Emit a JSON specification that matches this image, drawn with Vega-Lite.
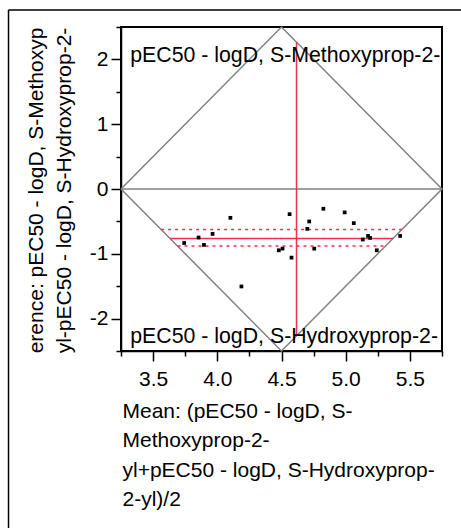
{
  "$schema": "https://vega.github.io/schema/vega-lite/v6.json",
  "width": 321,
  "height": 324,
  "autosize": {"type": "none"},
  "padding": {"left": 121, "top": 27, "right": 19, "bottom": 177},
  "background": "white",
  "config": {
    "view": {"stroke": "black", "strokeWidth": 2},
    "font": "Liberation Sans",
    "axis": {
      "grid": false,
      "domainColor": "black",
      "domainWidth": 1.5,
      "tickColor": "black",
      "tickWidth": 1.5,
      "labelColor": "black",
      "titleColor": "black",
      "labelFont": "Liberation Sans",
      "titleFont": "Liberation Sans",
      "labelFontSize": 21,
      "titleFontSize": 21,
      "titleFontWeight": "normal",
      "labelOverlap": false,
      "labelFlush": false
    }
  },
  "resolve": {"axis": {"x": "independent", "y": "independent"}},
  "datasets": {
    "pts": [
      {"mean": 3.742, "diff": -0.833},
      {"mean": 3.854, "diff": -0.749},
      {"mean": 3.896, "diff": -0.863},
      {"mean": 3.963, "diff": -0.693},
      {"mean": 4.102, "diff": -0.445},
      {"mean": 4.188, "diff": -1.504},
      {"mean": 4.479, "diff": -0.946},
      {"mean": 4.508, "diff": -0.92},
      {"mean": 4.563, "diff": -0.388},
      {"mean": 4.578, "diff": -1.059},
      {"mean": 4.701, "diff": -0.615},
      {"mean": 4.716, "diff": -0.501},
      {"mean": 4.755, "diff": -0.92},
      {"mean": 4.826, "diff": -0.305},
      {"mean": 4.992, "diff": -0.361},
      {"mean": 5.063, "diff": -0.527},
      {"mean": 5.133, "diff": -0.78},
      {"mean": 5.174, "diff": -0.724},
      {"mean": 5.19, "diff": -0.755},
      {"mean": 5.242, "diff": -0.946},
      {"mean": 5.424, "diff": -0.724}
    ],
    "diamond": [
      {"i": 0, "x": 3.25, "y": 0},
      {"i": 1, "x": 4.5, "y": 2.5},
      {"i": 2, "x": 5.75, "y": 0},
      {"i": 3, "x": 4.5, "y": -2.5},
      {"i": 4, "x": 3.25, "y": 0}
    ],
    "meanline": [{"x": 3.632, "x2": 5.368, "y": -0.764}],
    "ci": [
      {"x": 3.5625, "x2": 5.4375, "y": -0.625},
      {"x": 3.69, "x2": 5.31, "y": -0.879}
    ],
    "vline": [{"x": 4.617, "y": -2.266, "y2": 2.266}],
    "zero": [{"y": 0}],
    "labels": [
      {"x": 3.322, "y": 1.96, "text": "pEC50 - logD, S-Methoxyprop-2-"},
      {"x": 3.322, "y": -2.377, "text": "pEC50 - logD, S-Hydroxyprop-2-"}
    ],
    "frame": [
      {"x": 2.374, "x2": 6.2, "y": 2.762, "y2": 2.762},
      {"x": 2.374, "x2": 2.374, "y": 2.762, "y2": -5.6}
    ]
  },
  "layer": [
    {
      "data": {"name": "zero"},
      "mark": {"type": "rule", "color": "#808080", "strokeWidth": 1.5},
      "encoding": {
        "y": {
          "field": "y", "type": "quantitative",
          "scale": {"domain": [-2.5, 2.5], "nice": false, "zero": false},
          "axis": {
            "orient": "left",
            "values": [-2, -1, 0, 1, 2],
            "labelExpr": "'' + datum.value",
            "tickSize": 10,
            "labelPadding": 3,
            "title": ["erence: pEC50 - logD, S-Methoxyp", "yl-pEC50 - logD, S-Hydroxyprop-2-"],
            "titleAngle": -90,
            "titleX": -79,
            "titleY": 163,
            "titleAlign": "center",
            "titleBaseline": "alphabetic",
            "titleLineHeight": 28
          }
        }
      }
    },
    {
      "data": {"name": "diamond"},
      "mark": {"type": "line", "color": "#808080", "strokeWidth": 1.5},
      "encoding": {
        "x": {
          "field": "x", "type": "quantitative",
          "scale": {"domain": [3.25, 5.75], "nice": false, "zero": false},
          "axis": {
            "orient": "bottom",
            "values": [3.5, 4, 4.5, 5, 5.5],
            "format": ".1f",
            "tickSize": 10,
            "labelPadding": 7,
            "title": ["Mean: (pEC50 - logD, S-", "Methoxyprop-2-", "yl+pEC50 - logD, S-Hydroxyprop-", "2-yl)/2"],
            "titleAnchor": "start",
            "titleAlign": "left",
            "titleBaseline": "alphabetic",
            "titleX": 1,
            "titleY": 66,
            "titleLineHeight": 29.6
          }
        },
        "y": {"field": "y", "type": "quantitative", "axis": null},
        "order": {"field": "i", "type": "quantitative"}
      }
    },
    {
      "data": {"name": "vline"},
      "mark": {"type": "rule", "color": "#f0324a", "strokeWidth": 1.5},
      "encoding": {
        "x": {
          "field": "x", "type": "quantitative",
          "axis": {
            "orient": "bottom",
            "values": [3.25, 3.75, 4.25, 4.75, 5.25, 5.75],
            "tickSize": 5,
            "labels": false,
            "domain": false,
            "title": null
          }
        },
        "y": {
          "field": "y", "type": "quantitative",
          "axis": {
            "orient": "left",
            "values": [-2.5, -1.5, -0.5, 0.5, 1.5, 2.5],
            "tickSize": 5,
            "labels": false,
            "domain": false,
            "title": null
          }
        },
        "y2": {"field": "y2"}
      }
    },
    {
      "data": {"name": "meanline"},
      "mark": {"type": "rule", "color": "#f0324a", "strokeWidth": 1.5},
      "encoding": {
        "x": {"field": "x", "type": "quantitative", "axis": null},
        "x2": {"field": "x2"},
        "y": {"field": "y", "type": "quantitative", "axis": null}
      }
    },
    {
      "data": {"name": "ci"},
      "mark": {"type": "rule", "color": "#f0324a", "strokeWidth": 1.5, "strokeDash": [3, 4]},
      "encoding": {
        "x": {"field": "x", "type": "quantitative", "axis": null},
        "x2": {"field": "x2"},
        "y": {"field": "y", "type": "quantitative", "axis": null}
      }
    },
    {
      "data": {"name": "pts"},
      "mark": {"type": "point", "shape": "square", "filled": true, "color": "black", "size": 14, "opacity": 1},
      "encoding": {
        "x": {"field": "mean", "type": "quantitative", "axis": null},
        "y": {"field": "diff", "type": "quantitative", "axis": null}
      }
    },
    {
      "data": {"name": "labels"},
      "mark": {"type": "text", "align": "left", "baseline": "alphabetic", "fontSize": 21.3, "font": "Liberation Sans", "color": "black"},
      "encoding": {
        "x": {"field": "x", "type": "quantitative", "axis": null},
        "y": {"field": "y", "type": "quantitative", "axis": null},
        "text": {"field": "text"}
      }
    },
    {
      "data": {"name": "frame"},
      "mark": {"type": "rule", "color": "black", "strokeWidth": 1.5, "clip": false},
      "encoding": {
        "x": {"field": "x", "type": "quantitative", "axis": null},
        "x2": {"field": "x2"},
        "y": {"field": "y", "type": "quantitative", "axis": null},
        "y2": {"field": "y2"}
      }
    }
  ]
}
